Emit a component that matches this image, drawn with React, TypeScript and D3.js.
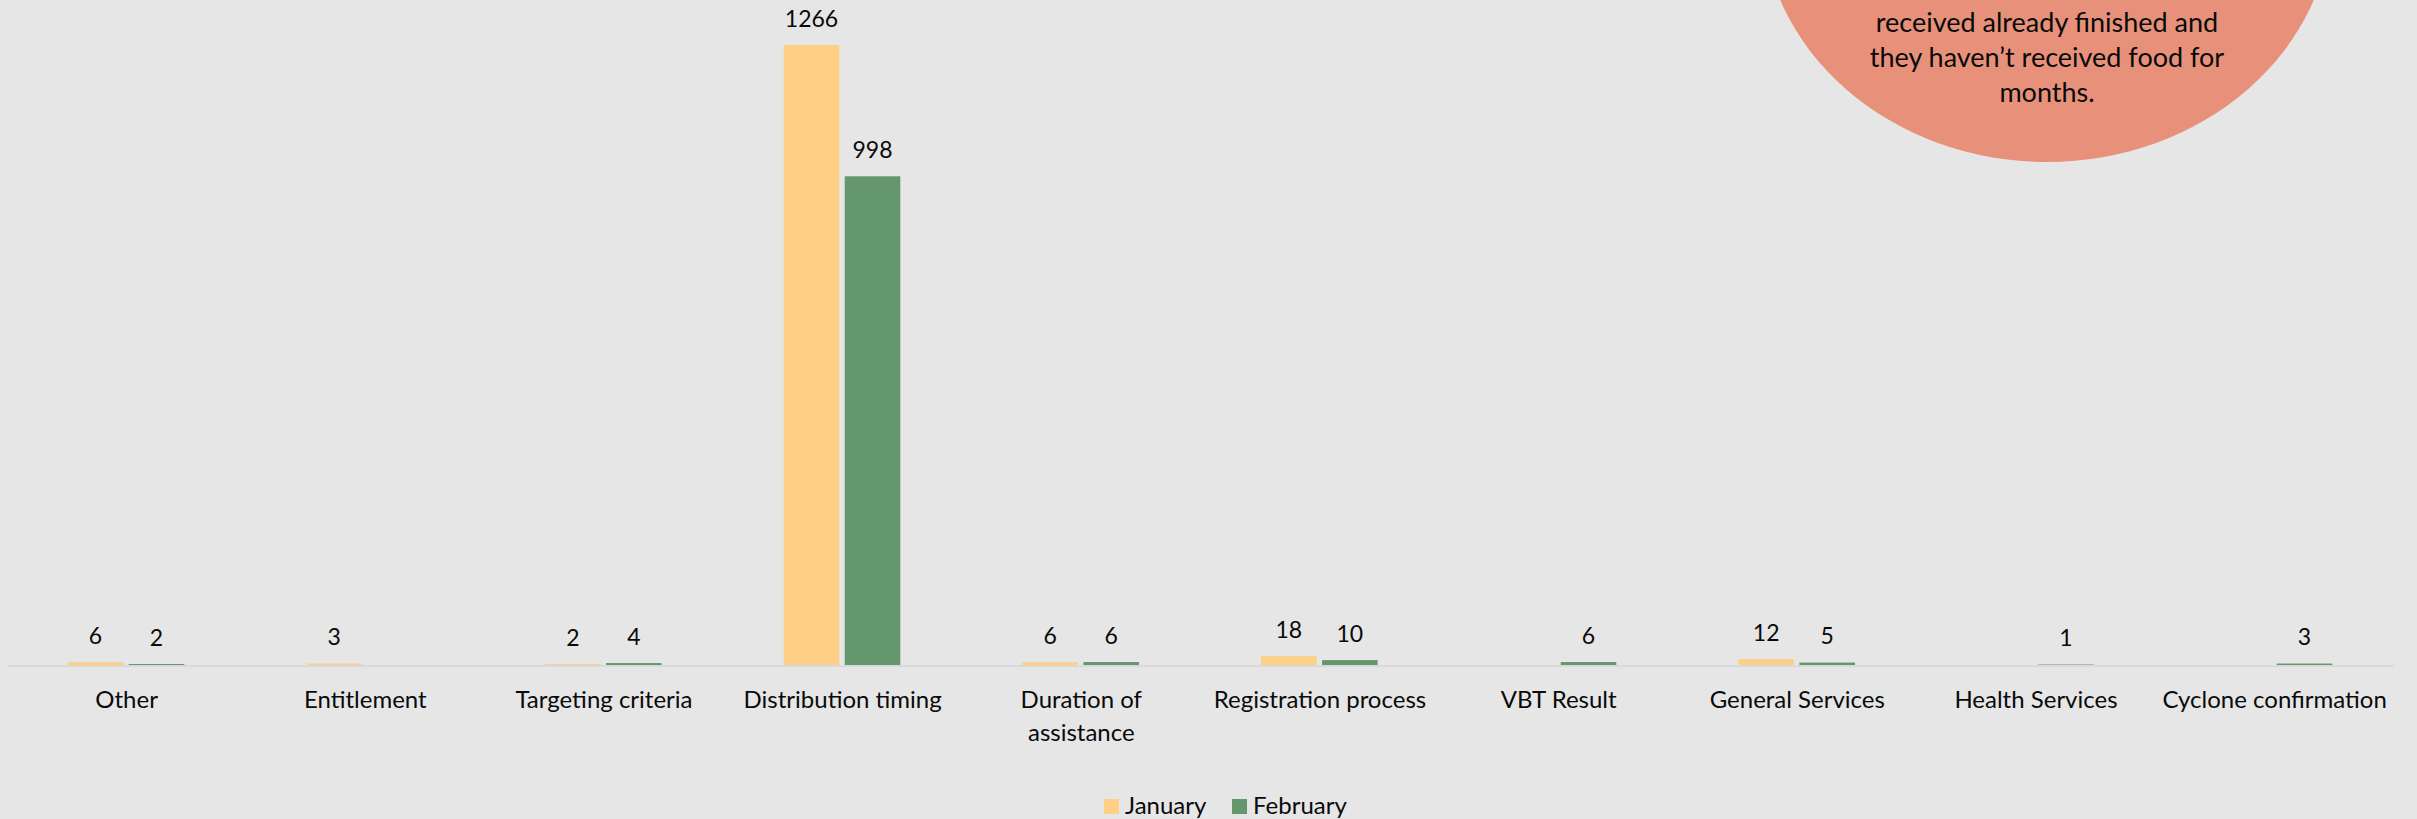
import React from "react";
import * as d3 from "d3";

const categories = [
  "Other",
  "Entitlement",
  "Targeting criteria",
  "Distribution timing",
  "Duration of\nassistance",
  "Registration process",
  "VBT Result",
  "General Services",
  "Health Services",
  "Cyclone confirmation",
];
const seriesNames = ["January", "February"];
const january: (number | null)[] = [6, 3, 2, 1266, 6, 18, null, 12, null, null];
const february: (number | null)[] = [2, null, 4, 998, 6, 10, 6, 5, 1, 3];
const seriesColors = ["#FDD085", "#64976C"];
const bubbleLines = [
  "received already finished and",
  "they haven\u2019t received food for",
  "months.",
];

const W = 2417;
const H = 819;
const FONT = "Lato, 'Noto Sans', sans-serif";

export default function App() {
  const x = d3.scaleBand<string>().domain(categories).range([7.3, 2394]).padding(0);
  const bw = x.bandwidth();
  const xs = d3
    .scaleBand<string>()
    .domain(seriesNames)
    .range([bw * 0.253, bw * 0.7416])
    .paddingInner(0.089)
    .paddingOuter(0);
  const y = d3.scaleLinear().domain([0, 1400]).range([665, 665 - 1400 * 0.4897]);
  const data = [january, february];

  return (
    <svg
      width={W}
      height={H}
      style={{ position: "absolute", left: 0, top: 0, fontFamily: FONT }}
    >
      <rect x={0} y={0} width={W} height={H} fill="#E6E6E6" />

      {/* bubble */}
      <ellipse cx={2047} cy={-88} rx={285} ry={250} fill="#E8917A" />
      {bubbleLines.map((l, i) => (
        <text
          key={i}
          x={2047}
          y={32.3 + i * 34.7}
          textAnchor="middle"
          fontSize={27}
          fill="#0A0A0A"
        >
          {l}
        </text>
      ))}

      {/* axis line */}
      <line x1={7.3} x2={2394} y1={666} y2={666} stroke="#D9D9D9" strokeWidth={2} />

      {/* bars */}
      {seriesNames.map((s, si) => (
        <g key={s}>
          {categories.map((c, ci) => {
            const v = data[si][ci];
            if (v === null || v === undefined) return null;
            const bx = (x(c) as number) + (xs(s) as number);
            const top = y(v);
            return (
              <g key={c}>
                <rect
                  x={bx}
                  y={top}
                  width={xs.bandwidth()}
                  height={Math.max(0, y(0) - top)}
                  fill={seriesColors[si]}
                />
                <text
                  x={bx + xs.bandwidth() / 2}
                  y={top - 18.5}
                  textAnchor="middle"
                  fontSize={23}
                  fill="#0A0A0A"
                >
                  {v}
                </text>
              </g>
            );
          })}
        </g>
      ))}

      {/* category labels */}
      {categories.map((c) => {
        const lines = c.split("\n");
        return (
          <text
            key={c}
            x={(x(c) as number) + bw / 2}
            y={708}
            textAnchor="middle"
            fontSize={24}
            fill="#0A0A0A"
          >
            {lines.map((l, i) => (
              <tspan key={i} x={(x(c) as number) + bw / 2} dy={i === 0 ? 0 : 33}>
                {l}
              </tspan>
            ))}
          </text>
        );
      })}

      {/* legend */}
      {seriesNames.map((s, i) => {
        const lx = [1104, 1232][i];
        return (
          <g key={s}>
            <rect x={lx} y={799} width={15} height={15} fill={seriesColors[i]} />
            <text x={lx + 21} y={814} fontSize={24} fill="#0A0A0A">
              {s}
            </text>
          </g>
        );
      })}
    </svg>
  );
}
